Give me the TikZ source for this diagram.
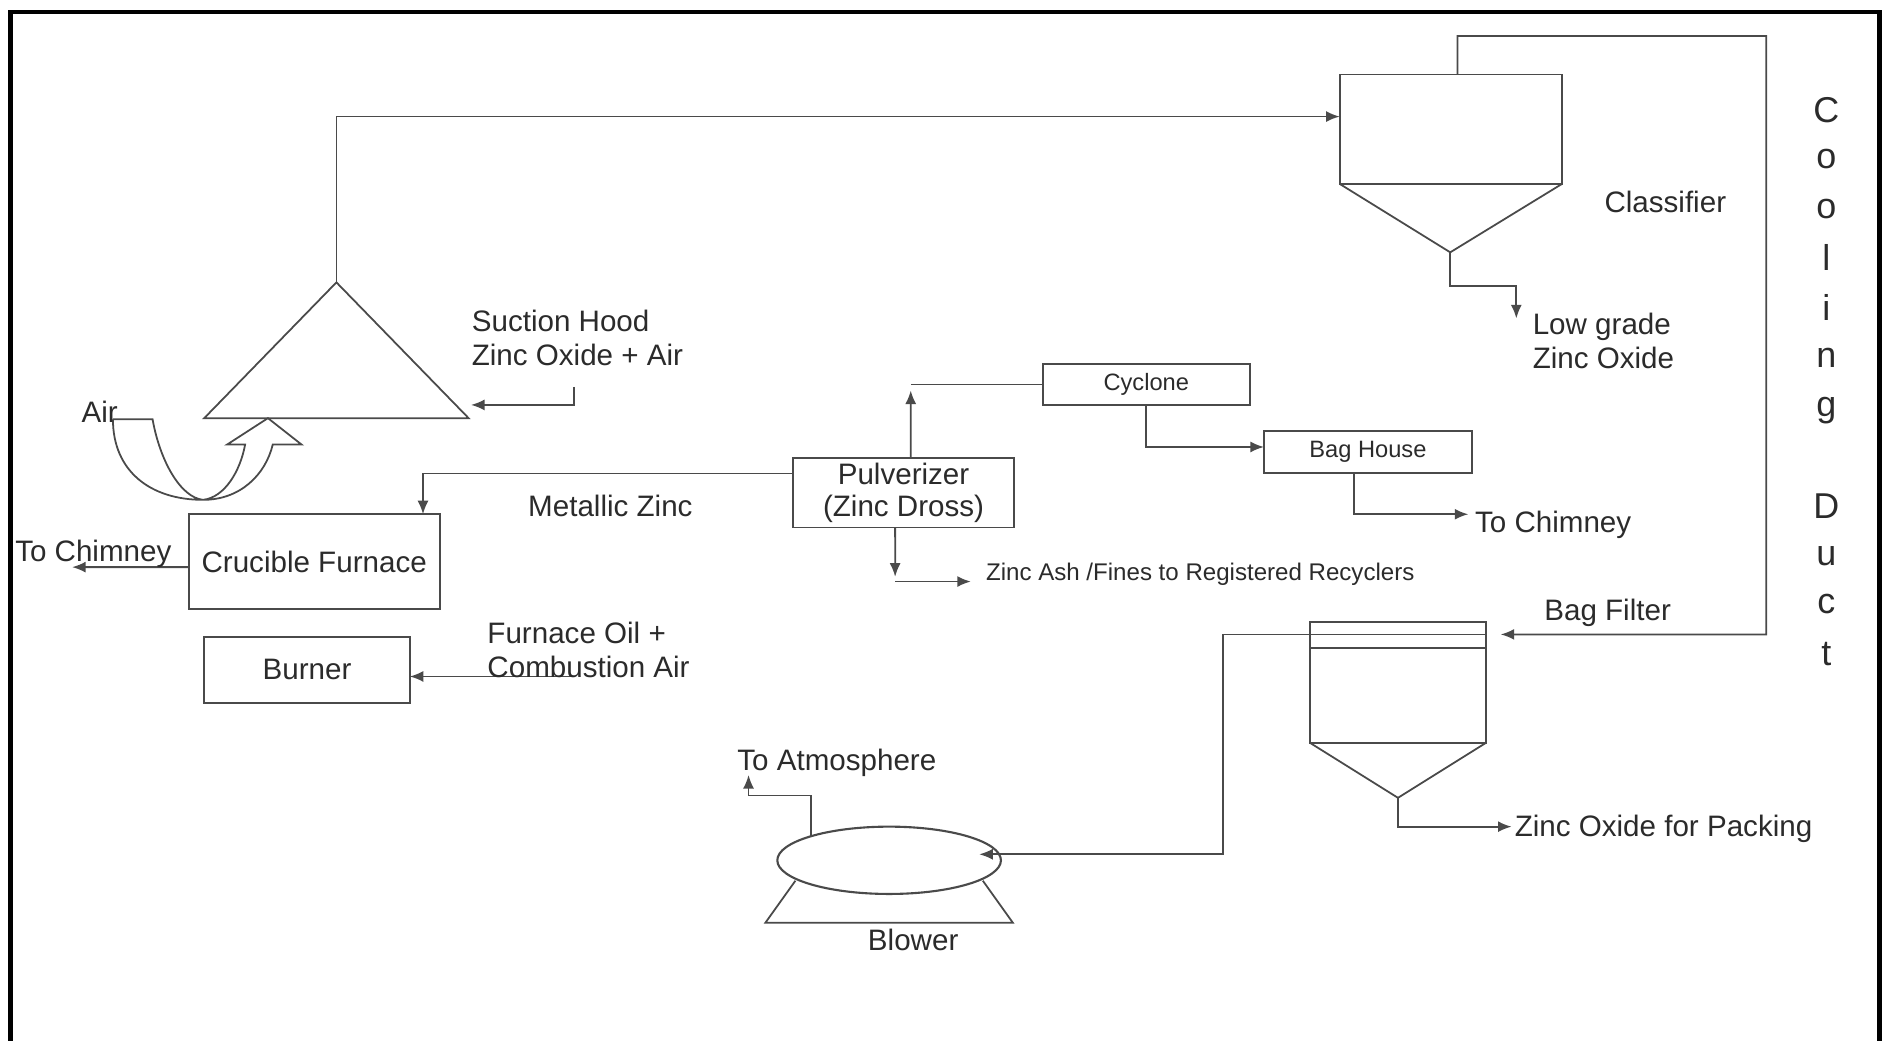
\documentclass[tikz,border=0pt]{standalone}
\usepackage{fontspec}
\setmainfont{Liberation Sans}
\usetikzlibrary{shapes.geometric,arrows.meta}
\definecolor{linec}{HTML}{4A4A4A}
\definecolor{txtc}{HTML}{2B2B2B}
\begin{document}
\begin{tikzpicture}[x=0.01cm,y=-0.01cm,
  ln/.style={draw=linec,line width=0.42pt},
  arr/.style={ln,-{Latex[length=3.2pt,width=2.6pt]}},
  box/.style={draw=linec,line width=0.45pt,rectangle,inner sep=0pt,outer sep=0pt,text=txtc,font=\fontsize{7}{8}\selectfont},
  lbl/.style={inner sep=0pt,text=txtc,font=\fontsize{7}{8}\selectfont},
  small/.style={lbl,font=\fontsize{5.7}{6.5}\selectfont},
  duct/.style={lbl,font=\fontsize{8.5}{10}\selectfont}]
\useasboundingbox (0,0) rectangle (1568,866);
\fill[white] (0,0) rectangle (1568,866);
\draw[line width=1.1pt] (9,866) -- (9,10) -- (1564,10) -- (1564,866);

% ---- equipment ----
\coordinate (hoodApex) at (280,235);
\coordinate (hoodL) at (170,348);
\coordinate (hoodR) at (390,348);
\draw[ln] (hoodApex) -- (hoodL) -- (hoodR) -- cycle;

\node[box,minimum width=1.85cm,minimum height=0.91cm] (cls) at (1207.5,107.5) {};
\coordinate (clsApex) at (1207,210);
\draw[ln] (cls.south west) -- (clsApex) -- (cls.south east);

\node[box,minimum width=1.47cm,minimum height=1.00cm] (bf) at (1163.5,568) {};
\draw[ln] (1090,528) -- (1237,528);
\draw[ln] (1090,539) -- (1237,539);
\coordinate (bfApex) at (1163.5,664);
\draw[ln] (bf.south west) -- (bfApex) -- (bf.south east);

\node[box,minimum width=1.72cm,minimum height=0.34cm,font=\fontsize{5.6}{6.5}\selectfont] (cyc) at (954,320) {Cyclone};
\node[box,minimum width=1.73cm,minimum height=0.35cm,font=\fontsize{5.6}{6.5}\selectfont] (bh) at (1138.5,376) {Bag House};
\node[box,minimum width=1.84cm,minimum height=0.58cm,align=center,font=\fontsize{7}{7.6}\selectfont] (pulv) at (752,410) {Pulverizer\\(Zinc Dross)};
\node[box,minimum width=2.09cm,minimum height=0.79cm] (cf) at (261.5,467.5) {Crucible Furnace};
\node[box,minimum width=1.71cm,minimum height=0.55cm] (burner) at (255.5,557.5) {Burner};
\node[ellipse,draw=linec,line width=0.5pt,minimum width=1.86cm,minimum height=0.56cm,inner sep=0pt] (blower) at (740,716) {};
\draw[ln] (662,733) -- (637,768) -- (843,768) -- (818,733);

% U-turn air arrow
\draw[ln] (94,349) -- (127,349)
  .. controls (133,383) and (150,414) .. (169,416)
  .. controls (187,414) and (200,392) .. (204,370)
  -- (189,370) -- (223,348) -- (251,370) -- (227,370)
  .. controls (221,395) and (200,416) .. (169,416)
  .. controls (125,416) and (94,392) .. (94,349);

% ---- connectors ----
\coordinate (clsIn) at (1115,97);
\draw[arr] (hoodApex) |- (clsIn);

\coordinate (bfIn) at (1249,528);
\draw[arr] ([xshift=0.055cm]cls.north) -- (1213,30) -- (1470,30) -- (1470,528) -- (bfIn);

\coordinate (lowOut) at (1262,265);
\draw[arr] (clsApex) -- (1207,238) -- (1262,238) -- (lowOut);

\coordinate (suckSrc) at (478,322);
\coordinate (hoodIn) at (392,337);
\draw[arr] (suckSrc) |- (hoodIn);

\coordinate (cycUp) at (758,325);
\draw[arr] ([xshift=0.06cm]pulv.north) -- (cycUp);
\draw[ln] (758,320) -- (cyc.west);

\draw[arr] (cyc.south) |- ([yshift=0.04cm]bh.west);

\coordinate (chim2) at (1222,428);
\draw[arr] ([xshift=-0.115cm]bh.south) |- (chim2);

\draw[arr] ([yshift=0.16cm]pulv.west) -| ([xshift=0.905cm]cf.north);

\coordinate (chim1) at (60,472);
\draw[arr] ([yshift=-0.045cm]cf.west) -- (chim1);

\coordinate (oilSrc) at (478,563);
\draw[arr] (oilSrc) -- (burner.east |- oilSrc);

\coordinate (ashDown) at (745,480);
\draw[arr] ([xshift=-0.07cm]pulv.south) -- (ashDown);
\coordinate (ashC) at (745,484);
\coordinate (ashOut) at (808,484);
\draw[arr] (ashC) -- (ashOut);

\coordinate (bfL) at (1090,528);
\coordinate (blIn) at (815,711);
\draw[arr] (bfL) -- (1018,528) -- (1018,711) -- (blIn);

\coordinate (packOut) at (1258,688);
\draw[arr] (bfApex) -- (1163.5,688) -- (packOut);

\coordinate (blTop) at (675,697);
\coordinate (atmOut) at (623,645);
\draw[arr] (blTop) -- (675,662) -- (623,662) -- (atmOut);

% ---- labels ----
\node[lbl,anchor=west] (tSuct) at (392,267) {Suction Hood};
\node[lbl,anchor=west] (tZo) at (392,295) {Zinc Oxide + Air};
\node[lbl] (tAir) at (83,343) {Air};
\node[lbl] (tMz) at (508,421) {Metallic Zinc};
\node[lbl,anchor=west] (tCh1) at (12,461) {To Chimney};
\node[lbl,anchor=west] (tFo) at (405,527) {Furnace Oil +};
\node[lbl,anchor=west] (tCa) at (405,555) {Combustion Air};
\node[small,anchor=west] (tAsh) at (820,478) {Zinc Ash /Fines to Registered Recyclers};
\node[lbl] (tCls) at (1386,168) {Classifier};
\node[lbl,anchor=west] (tLg) at (1275,272) {Low grade};
\node[lbl,anchor=west] (tLz) at (1275,298) {Zinc Oxide};
\node[lbl,anchor=west] (tCh2) at (1227,437) {To Chimney};
\node[lbl] (tBf) at (1338,510) {Bag Filter};
\node[lbl,anchor=west] (tPack) at (1260,690) {Zinc Oxide for Packing};
\node[lbl,anchor=west] (tAtm) at (613,635) {To Atmosphere};
\node[lbl] (tBl) at (760,782) {Blower};

\foreach \ch/\yy [count=\k] in {C/92,o/132,o/174,l/214,i/256,n/298,g/342,D/421,u/463,c/503,t/544}
  \node[duct] (duct\k) at (1520,\yy) {\ch};
\end{tikzpicture}
\end{document}
